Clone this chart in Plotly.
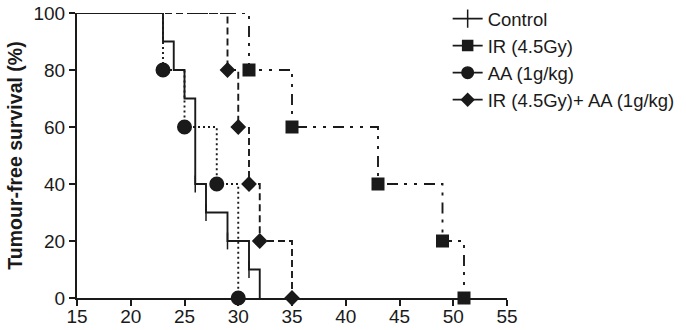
import plotly.graph_objects as go

# Data (Kaplan-Meier step points, days vs % tumour-free)
control_t = [15, 23, 24, 25, 26, 27, 29, 31, 32]
control_s = [100, 90, 80, 70, 40, 30, 20, 10, 0]
control_cens_t = [26, 27, 29, 31]
control_cens_s = [40, 30, 20, 10]

ir_t = [15, 31, 35, 43, 49, 51]
ir_s = [100, 80, 60, 40, 20, 0]

aa_t = [15, 23, 25, 28, 30]
aa_s = [100, 80, 60, 40, 0]

combo_t = [15, 29, 30, 31, 32, 35]
combo_s = [100, 80, 60, 40, 20, 0]

names = ["Control", "IR (4.5Gy)", "AA (1g/kg)", "IR (4.5Gy)+ AA (1g/kg)"]

x_ticks = [15, 20, 25, 30, 35, 40, 45, 50, 55]
y_ticks = [0, 20, 40, 60, 80, 100]

C = "#1a1a1a"
FONT = "Liberation Sans, Arial, sans-serif"

series = [
    (names[0], control_t, control_s, "solid", "line-ns", 12, 13, control_cens_t, control_cens_s),
    (names[1], ir_t, ir_s, "11px,6px,3px,7px,3px,7px", "square", 11.5, 10, ir_t[1:], ir_s[1:]),
    (names[2], aa_t, aa_s, "2px,3px", "circle", 13.5, 11.5, aa_t[1:], aa_s[1:]),
    (names[3], combo_t, combo_s, "7px,4px", "diamond", 10.5, 9.5, combo_t[1:], combo_s[1:]),
]

fig = go.Figure()
for i, (name, t, s, dash, sym, size, lsize, mt, ms) in enumerate(series):
    fig.add_trace(go.Scatter(
        x=t, y=s, mode="lines", line=dict(color=C, width=1.9, dash=dash, shape="hv"),
        showlegend=False, legendgroup=name, cliponaxis=False, hoverinfo="skip"))
    fig.add_trace(go.Scatter(
        x=mt, y=ms, mode="markers",
        marker=dict(symbol=sym, size=size, color=C, line=dict(color=C, width=1.5)),
        showlegend=False, legendgroup=name, cliponaxis=False))
    fig.add_trace(go.Scatter(
        x=[None], y=[None], mode="lines+markers", name=name, legendgroup=name,
        line=dict(color=C, width=1.8),
        marker=dict(symbol=sym, size=lsize, color=C, line=dict(color=C, width=1.5))))

axis_common = dict(
    showline=True, linecolor=C, linewidth=2, ticks="outside", ticklen=6, tickwidth=2,
    tickcolor=C, showgrid=False, zeroline=False, mirror=False, automargin=False,
    tickfont=dict(family=FONT, size=19, color=C),
)

fig.update_layout(
    width=686, height=330,
    margin=dict(l=77, r=179, t=0, b=32, pad=0),
    plot_bgcolor="white", paper_bgcolor="white",
    xaxis=dict(range=[15, 55], tickvals=x_ticks, ticklabelstandoff=-6, **axis_common),
    yaxis=dict(range=[0, 100], tickvals=y_ticks, domain=[0, 285 / 298],
               title=dict(text="<b>Tumour-free survival (%)</b>", standoff=6,
                          font=dict(family=FONT, size=19.5, color=C)),
               **axis_common),
    legend=dict(x=0.862, y=1.0, xanchor="left", yanchor="top",
                font=dict(family=FONT, size=18.5, color=C),
                itemwidth=30, tracegroupgap=0, bgcolor="rgba(0,0,0,0)"),
    showlegend=True,
)

fig.write_html("out.html", post_script="document.body.style.margin='0';",
               config={"displayModeBar": False})
